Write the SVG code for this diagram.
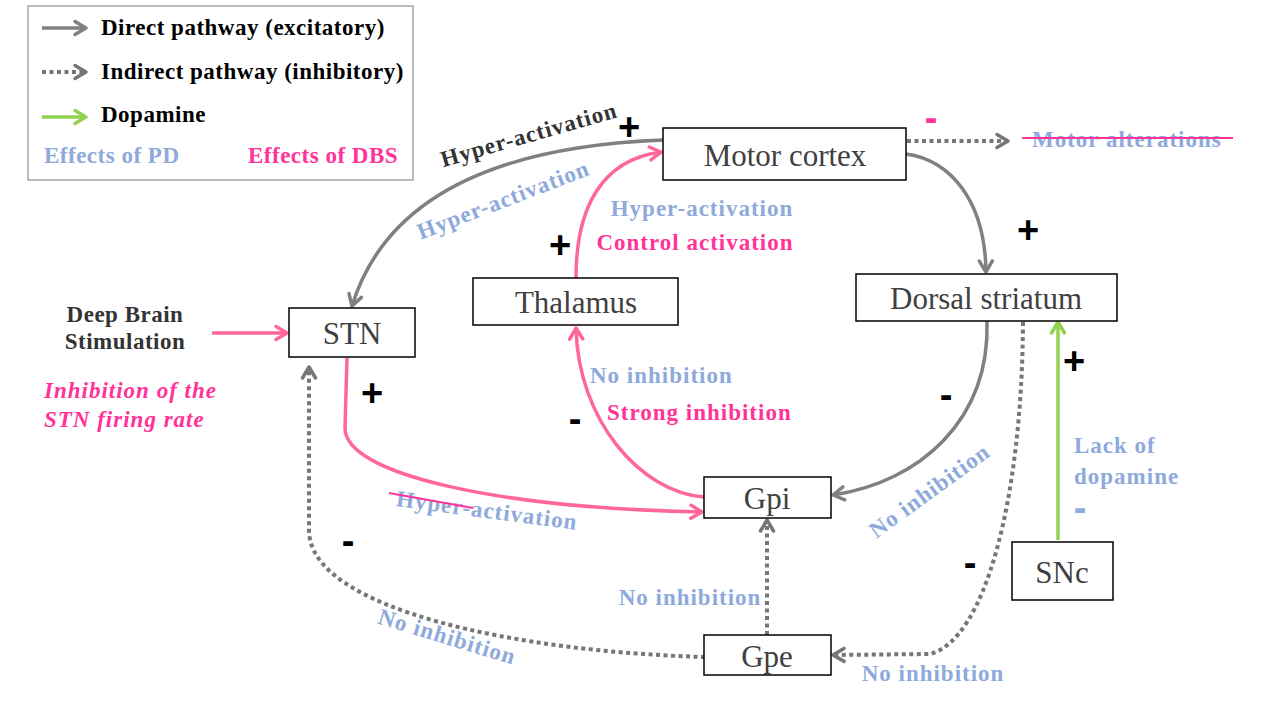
<svg xmlns="http://www.w3.org/2000/svg" width="1280" height="720" viewBox="0 0 1280 720">
<defs>
<style>
.node rect{fill:#fff;stroke:#000;stroke-width:1.5}
.node text{font-family:"Liberation Serif","Times New Roman",serif;font-size:31px;fill:#404040;text-anchor:middle}
.lbl{font-family:"Liberation Serif","Times New Roman",serif;font-size:23px;font-weight:bold;letter-spacing:1px}
.leg{letter-spacing:0.5px}
.pd{fill:#8EA9DB}
.dbs{fill:#FF3399}
.dk{fill:#333}
.blk{fill:#000}
.sign{font-family:"Liberation Sans",Arial,sans-serif;font-size:38px;font-weight:bold;text-anchor:middle;letter-spacing:0}
.g{fill:none;stroke:#808080;stroke-width:3.5}
.gd{fill:none;stroke:#767676;stroke-width:4;stroke-dasharray:4 3.5}
.p{fill:none;stroke:#FF6699;stroke-width:3.5}
.gr{fill:none;stroke:#92D050;stroke-width:3.5}
</style>
<marker id="ag" markerUnits="userSpaceOnUse" markerWidth="18" markerHeight="18" viewBox="0 0 18 18" refX="15" refY="9" orient="auto">
<path d="M4,2.5 L15,9 L4,15.5" fill="none" stroke="#808080" stroke-width="3.5" stroke-linecap="round" stroke-linejoin="round"/>
</marker>
<marker id="agd" markerUnits="userSpaceOnUse" markerWidth="18" markerHeight="18" viewBox="0 0 18 18" refX="15" refY="9" orient="auto">
<path d="M4,2.5 L15,9 L4,15.5" fill="none" stroke="#767676" stroke-width="3.5" stroke-linecap="round" stroke-linejoin="round"/>
</marker>
<marker id="ap" markerUnits="userSpaceOnUse" markerWidth="18" markerHeight="18" viewBox="0 0 18 18" refX="15" refY="9" orient="auto">
<path d="M4,2.5 L15,9 L4,15.5" fill="none" stroke="#FF6699" stroke-width="3.5" stroke-linecap="round" stroke-linejoin="round"/>
</marker>
<marker id="agr" markerUnits="userSpaceOnUse" markerWidth="18" markerHeight="18" viewBox="0 0 18 18" refX="15" refY="9" orient="auto">
<path d="M4,2.5 L15,9 L4,15.5" fill="none" stroke="#92D050" stroke-width="3.5" stroke-linecap="round" stroke-linejoin="round"/>
</marker>
</defs>
<rect width="1280" height="720" fill="#fff"/>

<g id="legend">
<rect x="28" y="6" width="385" height="174" fill="#fff" stroke="#A6A6A6" stroke-width="1.5"/>
<line class="g" x1="42" y1="28" x2="86" y2="28" marker-end="url(#ag)"/>
<line class="gd" x1="42" y1="72" x2="86" y2="72" marker-end="url(#agd)"/>
<line class="gr" x1="42" y1="117" x2="86" y2="117" marker-end="url(#agr)"/>
<text class="lbl leg blk" x="101" y="35">Direct pathway (excitatory)</text>
<text class="lbl leg blk" x="101" y="79">Indirect pathway (inhibitory)</text>
<text class="lbl leg blk" x="101" y="122">Dopamine</text>
<text class="lbl leg pd" x="44" y="163">Effects of PD</text>
<text class="lbl leg dbs" x="248" y="163">Effects of DBS</text>
</g>

<g id="connectors">
<path class="g" d="M663,140 Q400,150 352,306" marker-end="url(#ag)"/>
<path class="g" d="M906,154 C950,160 985,200 986,272" marker-end="url(#ag)"/>
<line class="gd" x1="907" y1="141" x2="1008" y2="141" marker-end="url(#agd)"/>
<path class="p" d="M576,278 C576,210 600,160 661,152" marker-end="url(#ap)"/>
<path class="p" d="M704,497 C640,492 578,420 576,328" marker-end="url(#ap)"/>
<path class="p" d="M347,358 L345,428 C345,475 500,508 702,512" marker-end="url(#ap)"/>
<path class="g" d="M987,321 C990,420 920,482 833,495" marker-end="url(#ag)"/>
<path class="gd" d="M1023,322 C1022,500 985,640 930,654 L833,655" marker-end="url(#agd)"/>
<line class="gd" x1="767" y1="635" x2="767" y2="520" marker-end="url(#agd)"/>
<path class="gd" d="M705,657 C520,652 309,610 309,530 L309,367" marker-end="url(#agd)"/>
<line class="p" x1="212" y1="333" x2="287" y2="333" marker-end="url(#ap)"/>
<line class="gr" x1="1058" y1="540" x2="1058" y2="322" marker-end="url(#agr)"/>
</g>

<g id="motor-cortex" class="node"><rect x="663" y="128" width="243" height="52"/><text x="785" y="166">Motor cortex</text></g>
<g id="dorsal-striatum" class="node"><rect x="856" y="274" width="261" height="47"/><text x="986" y="309">Dorsal striatum</text></g>
<g id="thalamus" class="node"><rect x="473" y="278" width="205" height="47"/><text x="576" y="313">Thalamus</text></g>
<g id="stn" class="node"><rect x="289" y="308" width="126" height="49"/><text x="352" y="344">STN</text></g>
<g id="gpi" class="node"><rect x="704" y="477" width="127" height="41"/><text x="767" y="509">Gpi</text></g>
<g id="gpe" class="node"><rect x="704" y="635" width="127" height="40"/><text x="767" y="667">Gpe</text></g>
<g id="snc" class="node"><rect x="1012" y="542" width="101" height="58"/><text x="1062" y="583">SNc</text></g>

<g id="labels">
<text class="lbl dk" text-anchor="middle" transform="translate(531,142) rotate(-16)">Hyper-activation</text>
<text class="lbl pd" text-anchor="middle" transform="translate(506,207) rotate(-21)">Hyper-activation</text>
<text class="lbl pd" text-anchor="middle" x="702" y="216">Hyper-activation</text>
<text class="lbl dbs" text-anchor="middle" x="695" y="250">Control activation</text>
<text class="lbl pd" x="1032" y="147">Motor alterations</text>
<line x1="1022" y1="138" x2="1233" y2="138" stroke="#FF3399" stroke-width="2"/>
<text class="lbl leg dk" text-anchor="middle" x="125" y="322">Deep Brain</text>
<text class="lbl leg dk" text-anchor="middle" x="125" y="349">Stimulation</text>
<text class="lbl dbs" font-style="italic" x="44" y="398">Inhibition of the</text>
<text class="lbl dbs" font-style="italic" x="44" y="427">STN firing rate</text>
<text class="lbl pd" x="590" y="383">No inhibition</text>
<text class="lbl dbs" x="607" y="420">Strong inhibition</text>
<text class="lbl pd" text-anchor="middle" transform="translate(486,518) rotate(7.5)">Hyper-activation</text>
<line x1="389" y1="493" x2="473" y2="508" stroke="#FF3399" stroke-width="2"/>
<text class="lbl pd" text-anchor="middle" transform="translate(934,497) rotate(-36)">No inhibition</text>
<text class="lbl pd" text-anchor="middle" transform="translate(445,644) rotate(17)">No inhibition</text>
<text class="lbl pd" text-anchor="middle" x="690" y="605">No inhibition</text>
<text class="lbl pd" text-anchor="middle" x="933" y="681">No inhibition</text>
<text class="lbl pd" x="1074" y="453">Lack of</text>
<text class="lbl pd" x="1074" y="484">dopamine</text>
<text class="sign blk" x="629" y="140">+</text>
<text class="sign blk" x="560" y="258">+</text>
<text class="sign blk" x="1028" y="243">+</text>
<text class="sign blk" x="372" y="406">+</text>
<text class="sign blk" x="1074" y="374">+</text>
<text class="sign blk" x="575" y="432">-</text>
<text class="sign blk" x="946" y="408">-</text>
<text class="sign blk" x="970" y="576">-</text>
<text class="sign blk" x="348" y="554">-</text>
<text class="sign" fill="#FF3399" x="931" y="131">-</text>
<text class="sign pd" x="1080" y="521">-</text>
</g>
</svg>
